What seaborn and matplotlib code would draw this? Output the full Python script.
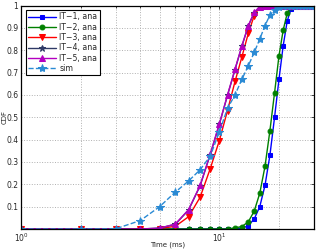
import matplotlib
matplotlib.use("Agg")
import matplotlib.pyplot as plt
import seaborn as sns
import numpy as np
import pandas as pd
from matplotlib.ticker import LogLocator, NullFormatter

time_ms = list(range(1, 31))
it1 = [0]*12 + [0.003, 0.015, 0.045, 0.10, 0.195, 0.33, 0.50, 0.67, 0.82, 0.93, 0.985] + [1]*7
it2 = [0]*11 + [0.005, 0.011, 0.032, 0.08, 0.16, 0.28, 0.44, 0.61, 0.775, 0.89, 0.965, 0.995] + [1]*7
it3 = [0]*4 + [0.002, 0.012, 0.055, 0.142, 0.27, 0.395, 0.53, 0.66, 0.77, 0.875, 0.955, 0.993] + [1]*14
it4 = [0]*4 + [0.004, 0.021, 0.085, 0.193, 0.333, 0.468, 0.598, 0.713, 0.818, 0.908, 0.968, 0.995] + [1]*14
it5 = [0]*4 + [0.004, 0.022, 0.087, 0.195, 0.335, 0.47, 0.60, 0.715, 0.82, 0.91, 0.97, 0.995] + [1]*14
sim = [0, 0, 0.001, 0.038, 0.10, 0.165, 0.215, 0.265, 0.326, 0.434, 0.54, 0.60, 0.67, 0.73, 0.79,
       0.85, 0.91, 0.957, 0.98, 0.995] + [1]*10

labels = ["IT\u22121, ana", "IT\u22122, ana", "IT\u22123, ana", "IT\u22124, ana", "IT\u22125, ana", "sim"]
series = [it1, it2, it3, it4, it5, sim]
colors = ["#0000ff", "#008000", "#ff0000", "#2f3a66", "#b300c0", "#2a8ad4"]
markers = ["s", "o", "v", "*", "^", "*"]
styles = ["-", "-", "-", "-", "-", "--"]
msizes = [3.5, 3.5, 4, 5, 4, 6]

sns.set_style("white")
plt.rcParams['font.family'] = ['DejaVu Sans']

fig = plt.figure(figsize=(3.19, 2.50), dpi=100)
ax = fig.add_axes([0.066, 0.084, 0.918, 0.894])

for lab, y, c, m, ls, ms in zip(labels, series, colors, markers, styles, msizes):
    df = pd.DataFrame({"t": time_ms, "cdf": y})
    sns.lineplot(data=df, x="t", y="cdf", ax=ax, color=c, marker=m, linestyle=ls,
                 markersize=ms, linewidth=1.0, markeredgecolor=c, label=lab)

ax.set_xscale("log")
ax.set_xlim(1, 30)
ax.set_ylim(0, 1)
yt = np.arange(1, 11) / 10
ax.set_yticks(yt)
ax.set_yticklabels([f"{v:g}" for v in yt])
ax.xaxis.set_major_locator(LogLocator(base=10, numticks=5))
ax.xaxis.set_minor_locator(LogLocator(base=10, subs=np.arange(2, 10), numticks=10))
ax.xaxis.set_minor_formatter(NullFormatter())
ax.grid(True, which="major", linestyle=":", color="#b0b0b0", linewidth=0.7)
ax.grid(True, which="minor", axis="x", linestyle=":", color="#b0b0b0", linewidth=0.7)
ax.tick_params(axis="both", which="both", direction="in", labelsize=5.5, length=2.5, width=0.6,
               top=True, right=True, pad=2)
ax.tick_params(axis="both", which="minor", length=1.5)
for s in ax.spines.values():
    s.set_color("black")
    s.set_linewidth(0.9)
ax.set_xlabel("Time (ms)", fontsize=5, va="top")
ax.xaxis.set_label_coords(0.5, -0.058)
ax.set_ylabel("CDF", fontsize=5)
ax.yaxis.set_label_coords(-0.046, 0.5)

leg = ax.legend(loc="upper left", fontsize=5.6, frameon=True, fancybox=False, edgecolor="black",
                framealpha=1, handlelength=3.6, borderpad=0.3, labelspacing=0.17,
                handletextpad=0.4, borderaxespad=0.6)
leg.get_frame().set_linewidth(0.8)

fig.savefig("out.png", dpi=100)
